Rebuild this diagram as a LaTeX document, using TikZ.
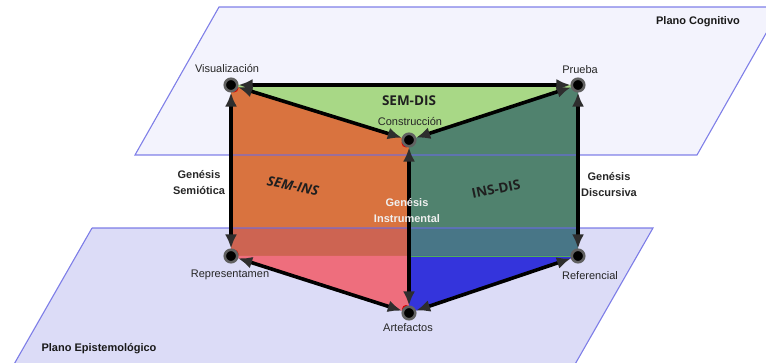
\documentclass[tikz,border=0pt]{standalone}
\usepackage{fontspec}
\setmainfont{Liberation Sans}
\newfontfamily\osans{Open Sans}
\usetikzlibrary{arrows.meta,calc}
\definecolor{topfill}{HTML}{F3F3FD}
\definecolor{botfill}{HTML}{DCDCF7}
\definecolor{planeedge}{HTML}{6A6AE4}
\definecolor{orangec}{HTML}{D9733F}
\definecolor{orangeband}{HTML}{CD6452}
\definecolor{pinkc}{HTML}{EE6E7D}
\definecolor{greenc}{HTML}{A8D886}
\definecolor{tealc}{HTML}{50826E}
\definecolor{tealband}{HTML}{487687}
\definecolor{bluec}{HTML}{3434DC}
\definecolor{tipc}{HTML}{2E2E2E}
\begin{document}
\begin{tikzpicture}[x=1pt,y=-1pt,
  vertex/.style={circle,fill=black,draw=black!62,line width=2.6pt,minimum size=12.5pt,inner sep=0pt},
  edge/.style={line width=3.6pt,black,{Latex[length=14pt,width=12pt,color=tipc]}-{Latex[length=14pt,width=12pt,color=tipc]}},
  lab/.style={font=\fontsize{11}{13}\selectfont,text=black!85},
  genlab/.style={font=\fontsize{11}{16}\selectfont\bfseries,align=center,text=black!85},
  planelab/.style={font=\fontsize{11}{13}\selectfont\bfseries,text=black!90},
  pairlab/.style={font=\osans\fontsize{13.5}{15}\selectfont\bfseries,text=black!88,inner sep=0pt},
  planeline/.style={draw=planeedge,line width=1.1pt,draw opacity=0.85}
]
\useasboundingbox (0,0) rectangle (766,363);
\clip (0,0) rectangle (766,363);
% points
\coordinate (pV) at (231,85);
\coordinate (pP) at (578,85);
\coordinate (pC) at (409,140);
\coordinate (pR) at (231,256);
\coordinate (pF) at (578,256);
\coordinate (pA) at (409,313);
% planes fills
\fill[botfill] (92,228) -- (653,228) -- (566,380) -- (5,380) -- cycle;
\fill[topfill] (135,155) -- (697,155) -- (781,7) -- (219,7) -- cycle;
% regions
\fill[greenc] (pV) -- (pP) -- (pC) -- cycle;
\fill[orangec] (pV) -- (pC) -- (409,228) -- (231,228) -- cycle;
\fill[orangeband] (231,228) -- (409,228) -- (409,256) -- (231,256) -- cycle;
\fill[pinkc] (pR) -- (409,256) -- (pA) -- cycle;
\fill[tealc] (pC) -- (pP) -- (578,228) -- (409,228) -- cycle;
\fill[tealband] (409,228) -- (578,228) -- (578,256) -- (409,256) -- cycle;
\fill[bluec] (409,256) -- (pF) -- (pA) -- cycle;
\draw[line width=0.6pt,green!60!yellow,opacity=0.6] (409,256) -- (578,256);
% plane edges
\draw[planeline] (92,228) -- (653,228) -- (566,380);
\draw[planeline] (5,380) -- (92,228);
\draw[planeline] (135,155) -- (697,155) -- (781,7) -- (219,7) -- cycle;
% red marks
\fill[red!85!black] ($(pV)+(3,3)$) circle (4.5pt);
\fill[red!85!black] ($(pC)+(-3,3)$) circle (4.5pt);
\fill[red!85!black] ($(pR)+(3,-2)$) circle (4.5pt);
\fill[red!85!black] ($(pA)+(-3,-4)$) circle (4pt);
% nodes
\node[vertex] (V) at (pV) {};
\node[vertex] (P) at (pP) {};
\node[vertex] (C) at (pC) {};
\node[vertex] (R) at (pR) {};
\node[vertex] (F) at (pF) {};
\node[vertex] (A) at (pA) {};
% edges
\draw[edge] (V) -- (P);
\draw[edge] (V) -- (C);
\draw[edge] (P) -- (C);
\draw[edge] (V) -- (R);
\draw[edge] (C) -- (A);
\draw[edge] (P) -- (F);
\draw[edge] (R) -- (A);
\draw[edge] (F) -- (A);
% labels
\node[lab] (lV) at (227,69) {Visualización};
\node[lab] (lP) at (580,70) {Prueba};
\node[lab] (lC) at (410,122) {Construcción};
\node[lab] (lR) at (230,275) {Representamen};
\node[lab] (lF) at (590,276) {Referencial};
\node[lab] (lA) at (408,328) {Artefactos};
\node[planelab] (pc) at (698,22) {Plano Cognitivo};
\node[planelab] (pe) at (99,349) {Plano Epistemológico};
\node[genlab] (gs) at (199,183) {Genésis\\Semiótica};
\node[genlab] (gd) at (609,185) {Genésis\\Discursiva};
\node[genlab,text=white!94!black] (gi) at (407,211) {Genésis\\Instrumental};
\node[pairlab] (sd) at (409,101) {SEM-DIS};
\node[pairlab,font=\osans\fontsize{13.5}{15}\selectfont\bfseries\itshape,rotate=-12] (si) at (293,186) {SEM-INS};
\node[pairlab,rotate=12] (id) at (496,189) {INS-DIS};
\end{tikzpicture}
\end{document}
